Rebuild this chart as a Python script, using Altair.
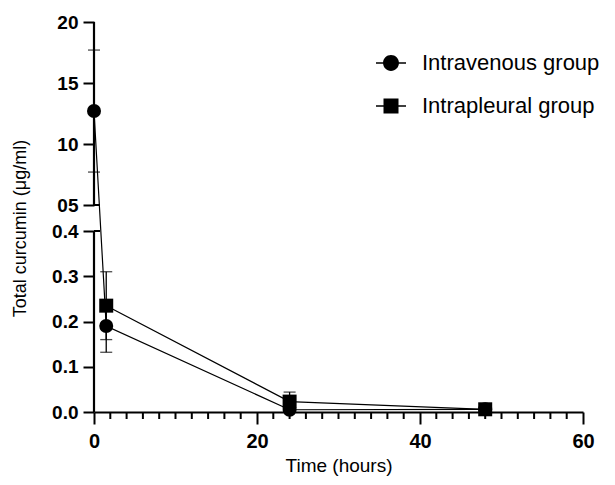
import altair as alt
import pandas as pd

# ---- data ----
time_iv = [0, 1.5, 24, 48]
mean_iv = [12.7, 0.19, 0.005, 0.006]
sd_iv = [5.0, 0.058, 0.003, 0.003]

time_ip = [1.5, 24, 48]
mean_ip = [0.235, 0.023, 0.006]
sd_ip = [0.075, 0.021, 0.004]

groups = ["Intravenous group", "Intrapleural group"]

y_ticks = [0, 0.1, 0.2, 0.3, 0.4, 5, 10, 15, 20]
x_ticks = [0, 20, 40, 60]
x_minor = [2, 4, 6, 8, 10, 12, 14, 16, 18, 22, 24, 26, 28, 30, 32, 34, 36, 38,
           42, 44, 46, 48, 50, 52, 54, 56, 58]
y_segments_lo = [0, 5]
y_segments_hi = [0.4, 20]
y_breaks = [0.4, 5]

FONT = "Liberation Sans"
H = 390
W = 489

iv = pd.DataFrame({"t": time_iv, "m": mean_iv, "sd": sd_iv, "g": groups[0]})
ip = pd.DataFrame({"t": time_ip, "m": mean_ip, "sd": sd_ip, "g": groups[1]})
for d in (iv, ip):
    d["lo"] = d["m"] - d["sd"]
    d["hi"] = d["m"] + d["sd"]
both = pd.concat([iv, ip], ignore_index=True)
caps = pd.concat([
    both[["t", "lo"]].rename(columns={"lo": "v"}),
    both[["t", "hi"]].rename(columns={"hi": "v"}),
], ignore_index=True)

xscale = alt.Scale(domain=[0, 60], nice=False, zero=False, padding=0)
yscale = alt.Scale(domain=[0, 0.4, 5, 20], range=[H, 209, 183, 0], nice=False, zero=False)

label_expr = ("datum.value == 5 ? '05' : (datum.value >= 1 ? format(datum.value, 'd') "
              ": format(datum.value, '.1f'))")

X = alt.X("t:Q", scale=xscale, axis=alt.Axis(
    values=x_ticks, format="d", grid=False, domainWidth=2, domainColor="black",
    tickSize=12, tickWidth=2, tickColor="black", labelFont=FONT, labelFontSize=20,
    labelFontWeight="bold", labelColor="black", labelPadding=7, labelFlush=False,
    title="Time (hours)", titleFont=FONT, titleFontSize=19, titleFontWeight="normal",
    titleColor="black", titleY=53, titleBaseline="middle"))

Y = alt.Y("m:Q", scale=yscale, axis=alt.Axis(
    values=y_ticks, labelExpr=label_expr, grid=False, domain=False, labelFlush=False,
    tickSize=11, tickWidth=2, tickColor="black", labelFont=FONT, labelFontSize=19,
    labelFontWeight="bold", labelColor="black", labelPadding=5,
    title="Total curcumin (μg/ml)", titleFont=FONT, titleFontSize=18,
    titleFontWeight="normal", titleColor="black", titleX=-74, titleY=206,
    titleAlign="center", titleBaseline="middle", titleAngle=270))

base = alt.Chart(both)

# y-axis line segments (broken axis)
seg = alt.Chart(pd.DataFrame({"lo": y_segments_lo, "hi": y_segments_hi})).mark_rule(
    color="black", strokeWidth=2.2).encode(
    x=alt.value(0), y=alt.Y("lo:Q", scale=yscale), y2="hi:Q")
brk = alt.Chart(pd.DataFrame({"v": y_breaks})).mark_rule(
    color="black", strokeWidth=2).encode(
    x=alt.value(0), x2=alt.value(6), y=alt.Y("v:Q", scale=yscale))
minor = alt.Chart(pd.DataFrame({"t": x_minor})).mark_rule(
    color="black", strokeWidth=2).encode(
    x=alt.X("t:Q", scale=xscale), y=alt.value(H), y2=alt.value(H + 7))

lines = base.mark_line(color="black", strokeWidth=1.2, clip=False).encode(
    x=X, y=Y, detail="g:N", order="t:Q")
bars = base.mark_rule(color="black", strokeWidth=1.3).encode(
    x=alt.X("t:Q", scale=xscale), y=alt.Y("lo:Q", scale=yscale), y2="hi:Q")
capm = alt.Chart(caps).mark_tick(orient="horizontal", size=12, thickness=1.3,
                                  color="black").encode(
    x=alt.X("t:Q", scale=xscale), y=alt.Y("v:Q", scale=yscale))
pts_ip = alt.Chart(ip).mark_point(shape="square", filled=True, size=196, opacity=1,
                                  color="black").encode(
    x=alt.X("t:Q", scale=xscale), y=alt.Y("m:Q", scale=yscale))
pts_iv = alt.Chart(iv).mark_point(shape="circle", filled=True, size=196, opacity=1,
                                  color="black").encode(
    x=alt.X("t:Q", scale=xscale), y=alt.Y("m:Q", scale=yscale))

# legend symbols: marker with a short line through it (filled shapes)
path_circle = ("M-1,-0.05H1V0.05H-1Z "
               "M0.53,0A0.53,0.53,0,1,1,-0.53,0A0.53,0.53,0,1,1,0.53,0Z")
path_square = "M-1,-0.05H1V0.05H-1Z M-0.5,-0.5H0.5V0.5H-0.5Z"

leg = base.mark_point(filled=True, color="black", opacity=0).encode(
    x=alt.X("t:Q", scale=xscale), y=alt.Y("m:Q", scale=yscale),
    shape=alt.Shape("g:N", scale=alt.Scale(domain=groups, range=[path_circle, path_square]),
                    legend=alt.Legend(title=None, orient="none", legendX=281, legendY=25,
                                      symbolSize=900, symbolOpacity=1,
                                      symbolFillColor="black", labelFont=FONT,
                                      labelFontSize=22, labelColor="black",
                                      labelOffset=15, rowPadding=16, padding=0,
                                      labelLimit=400)))

chart = alt.layer(seg, brk, minor, lines, bars, capm, pts_ip, pts_iv, leg).resolve_scale(
    shape="independent").properties(
    width=W, height=H,
    autosize=alt.AutoSizeParams(type="none"),
    padding={"left": 86, "top": 14, "right": 20, "bottom": 64},
    background="white",
).configure_view(stroke=None)

chart.save("out.html", embed_options={"renderer": "svg", "actions": False})
